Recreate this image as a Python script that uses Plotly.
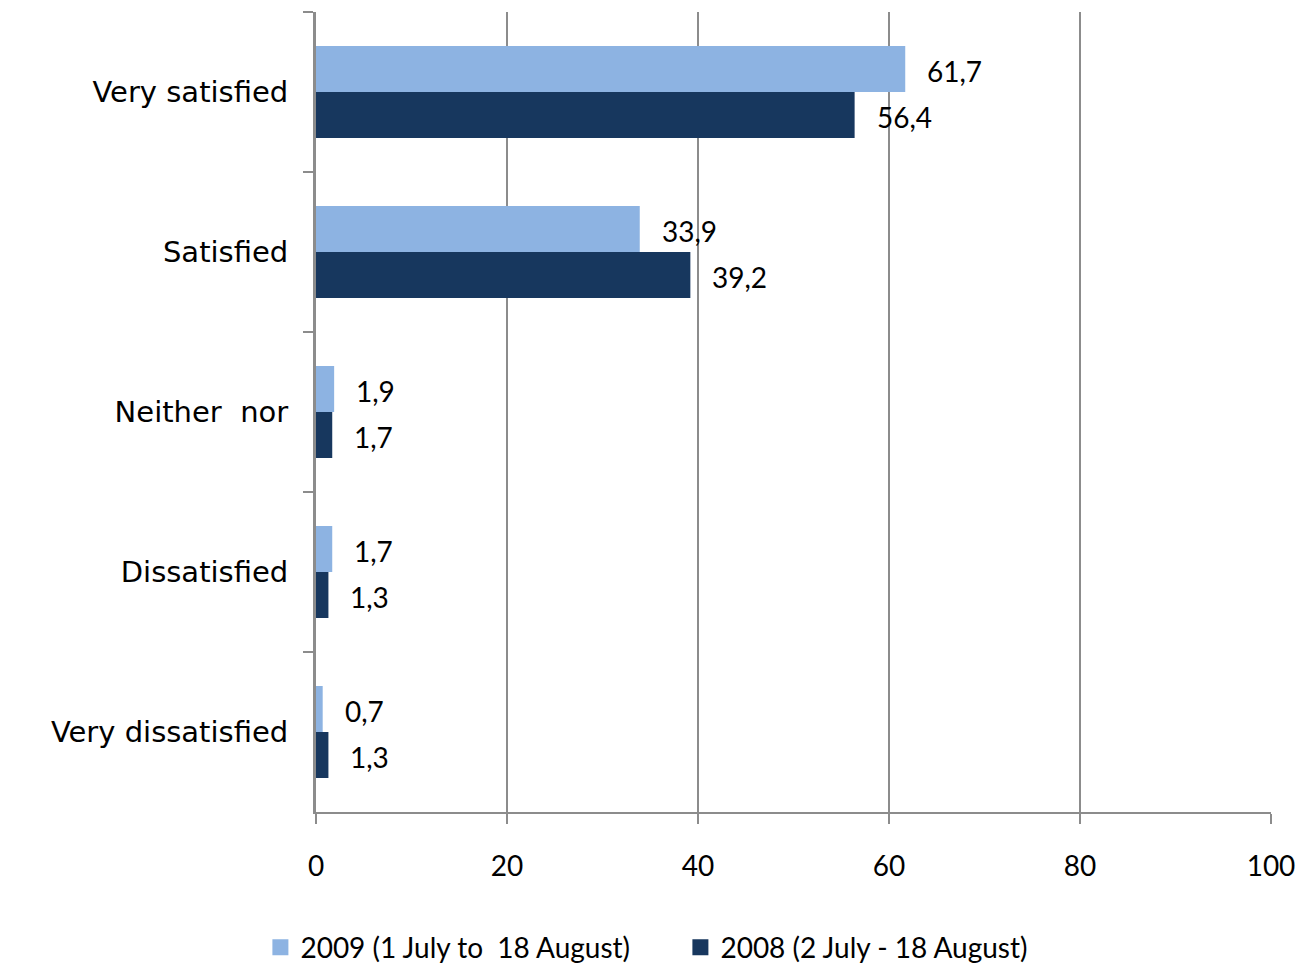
import plotly.graph_objects as go

categories = ["Very satisfied", "Satisfied", "Neither  nor", "Dissatisfied", "Very dissatisfied"]
values_2009 = [61.7, 33.9, 1.9, 1.7, 0.7]
values_2008 = [56.4, 39.2, 1.7, 1.3, 1.3]
series_names = ["2009 (1 July to  18 August)", "2008 (2 July - 18 August)"]
x_ticks = [0, 20, 40, 60, 80, 100]

light = "#8DB3E2"
dark = "#17375E"
grid = "#8C8C8C"
label_font = "Lato, 'Liberation Sans', sans-serif"
cat_font = "'DejaVu Sans', Verdana, sans-serif"

fig = go.Figure()
fig.add_trace(go.Bar(y=categories, x=values_2009, orientation="h", marker_color=light,
                     marker_line_width=0, showlegend=False, name=series_names[0]))
fig.add_trace(go.Bar(y=categories, x=values_2008, orientation="h", marker_color=dark,
                     marker_line_width=0, showlegend=False, name=series_names[1]))
# legend proxies with large square markers
for nm, col in zip(series_names, [light, dark]):
    fig.add_trace(go.Scatter(x=[None], y=[None], mode="markers", name=nm,
                             marker=dict(symbol="square", size=19, color=col)))

def fmt(v):
    return f"{v:.1f}".replace(".", ",")

ann = []
for cat, v in zip(categories, values_2009):
    ann.append(dict(x=v, y=cat, xref="x", yref="y", text=fmt(v), showarrow=False,
                    xanchor="left", yanchor="middle", xshift=20, yshift=21,
                    font=dict(family=label_font, size=28, color="black")))
for cat, v in zip(categories, values_2008):
    ann.append(dict(x=v, y=cat, xref="x", yref="y", text=fmt(v), showarrow=False,
                    xanchor="left", yanchor="middle", xshift=20, yshift=-25,
                    font=dict(family=label_font, size=28, color="black")))

fig.update_layout(
    width=1302, height=966,
    margin=dict(l=316, r=31, t=12, b=154, autoexpand=False),
    paper_bgcolor="white", plot_bgcolor="white",
    barmode="group", bargap=0.425, bargroupgap=0,
    annotations=ann,
    legend=dict(orientation="h", xref="container", yref="container",
                x=0.2, xanchor="left", y=0.019, yanchor="middle",
                font=dict(family=label_font, size=28, color="black"),
                itemwidth=30, tracegroupgap=0, entrywidth=375, entrywidthmode="pixels"),
)
fig.update_xaxes(range=[0, 100], tickvals=x_ticks, ticktext=[str(t) for t in x_ticks],
                 showgrid=True, gridcolor=grid, gridwidth=2,
                 showline=True, linecolor=grid, linewidth=2,
                 ticks="outside", ticklen=10, tickcolor=grid, tickwidth=2,
                 ticklabelstandoff=18, zeroline=False, automargin=False,
                 tickfont=dict(family=label_font, size=28, color="black"))
fig.update_yaxes(autorange="reversed", categoryorder="array", categoryarray=categories,
                 tickson="boundaries", ticks="outside", ticklen=10, tickcolor=grid, tickwidth=2,
                 showline=True, linecolor=grid, linewidth=3, showgrid=False,
                 ticklabelstandoff=19, automargin=False,
                 tickfont=dict(family=cat_font, size=29, color="black"))

fig.write_html("out.html")
